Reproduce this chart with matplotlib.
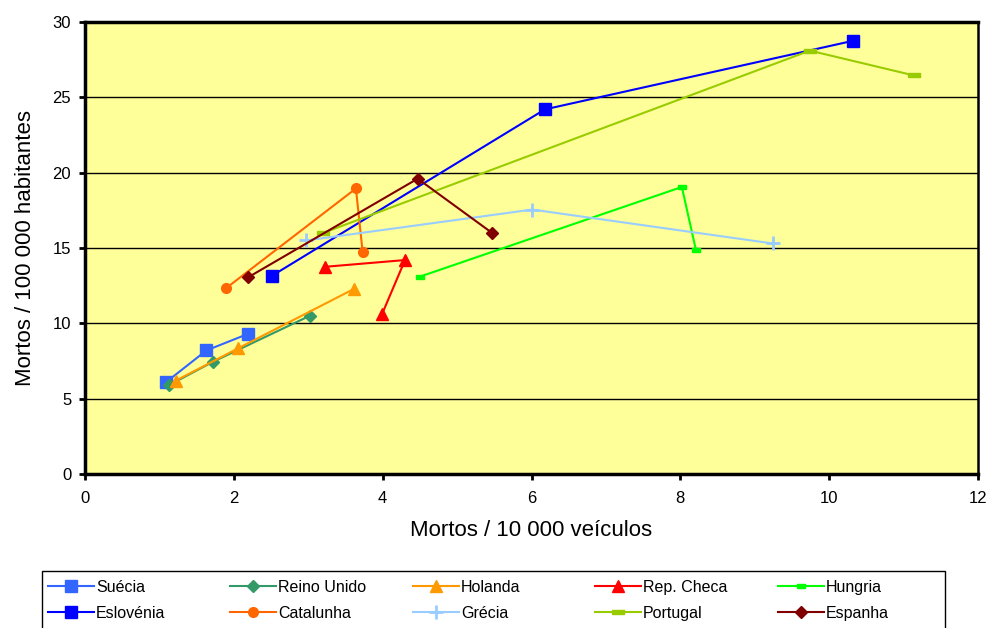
import matplotlib.pyplot as plt
from matplotlib.patches import Rectangle

plt.rcParams['font.family'] = ['Liberation Sans', 'DejaVu Sans']

# values (x = mortos / 10 000 veiculos, y = mortos / 100 000 habitantes)
suecia_x = [1.09, 1.63, 2.19]
suecia_y = [6.1, 8.2, 9.3]
reino_unido_x = [1.13, 1.72, 3.02]
reino_unido_y = [5.9, 7.45, 10.5]
holanda_x = [1.22, 2.06, 3.62]
holanda_y = [6.2, 8.35, 12.3]
rep_checa_x = [3.22, 4.30, 3.99]
rep_checa_y = [13.75, 14.2, 10.6]
hungria_x = [4.50, 8.02, 8.21]
hungria_y = [13.1, 19.05, 14.85]
eslovenia_x = [2.51, 6.18, 10.32]
eslovenia_y = [13.15, 24.2, 28.75]
catalunha_x = [1.90, 3.64, 3.73]
catalunha_y = [12.35, 18.95, 14.75]
grecia_x = [2.97, 6.01, 9.24]
grecia_y = [15.5, 17.55, 15.3]
portugal_x = [3.20, 9.74, 11.14]
portugal_y = [16.0, 28.1, 26.45]
espanha_x = [2.19, 4.47, 5.47]
espanha_y = [13.05, 19.6, 16.0]

dash_big = [(-1, -0.35), (1, -0.35), (1, 0.35), (-1, 0.35), (-1, -0.35)]
dash_small = [(-1, -0.45), (1, -0.45), (1, 0.45), (-1, 0.45), (-1, -0.45)]

series = [
    ("Suécia", suecia_x, suecia_y, "#3366FF", "s", 8),
    ("Reino Unido", reino_unido_x, reino_unido_y, "#339966", "D", 6),
    ("Holanda", holanda_x, holanda_y, "#FF9900", "^", 8),
    ("Rep. Checa", rep_checa_x, rep_checa_y, "#FF0000", "^", 8),
    ("Hungria", hungria_x, hungria_y, "#00FF00", dash_small, 6),
    ("Eslovénia", eslovenia_x, eslovenia_y, "#0000FF", "s", 8),
    ("Catalunha", catalunha_x, catalunha_y, "#FF6600", "o", 7),
    ("Grécia", grecia_x, grecia_y, "#99CCFF", "+", 10),
    ("Portugal", portugal_x, portugal_y, "#99CC00", dash_big, 9),
    ("Espanha", espanha_x, espanha_y, "#800000", "D", 6),
]

W, H = 990, 628
fig = plt.figure(figsize=(W / 100, H / 100), dpi=100)
ax = fig.add_axes([0.0859, 0.2452, 0.9020, 0.7198])
ax.set_facecolor("#FFFF99")

handles = {}
for name, xs, ys, col, mk, ms in series:
    mew = 2 if mk == "+" else 1
    ln, = ax.plot(xs, ys, color=col, lw=1.5, marker=mk, ms=ms,
                  mfc=col, mec=col, mew=mew, label=name, zorder=3)
    handles[name] = ln

ax.set_xlim(0, 12)
ax.set_ylim(0, 30)
ax.set_xticks(range(0, 13, 2))
ax.set_yticks(range(0, 31, 5))
for yv in range(5, 30, 5):
    ax.axhline(yv, color="black", lw=1, zorder=1)

for side in ["left", "top", "bottom"]:
    ax.spines[side].set_linewidth(2.5)
ax.spines["right"].set_linewidth(1.8)
ax.tick_params(direction="out", length=4, width=2, labelsize=12, pad=6)
ax.tick_params(axis="x", pad=8)

ax.set_xlabel("Mortos / 10 000 veículos", fontsize=16, labelpad=10)
ax.set_ylabel("Mortos / 100 000 habitantes", fontsize=16, labelpad=12)

# legend: five columns of two rows, inside one box that runs off the bottom
columns = [("Suécia", "Eslovénia"), ("Reino Unido", "Catalunha"),
           ("Holanda", "Grécia"), ("Rep. Checa", "Portugal"),
           ("Hungria", "Espanha")]
col_left = [48, 230, 413, 595, 778]
for names, xl in zip(columns, col_left):
    fig.legend([handles[n] for n in names], names, loc="upper left",
               bbox_to_anchor=(xl / W, 1 - 580 / H), frameon=False,
               fontsize=11.5, borderpad=0, borderaxespad=0,
               handlelength=2.9, handletextpad=0.1, labelspacing=0.68)
fig.add_artist(Rectangle((42 / W, -0.05), 903 / W, 0.05 + (H - 571) / H,
                         transform=fig.transFigure, fill=False,
                         edgecolor="black", lw=1))

fig.savefig("out.png", dpi=100)
